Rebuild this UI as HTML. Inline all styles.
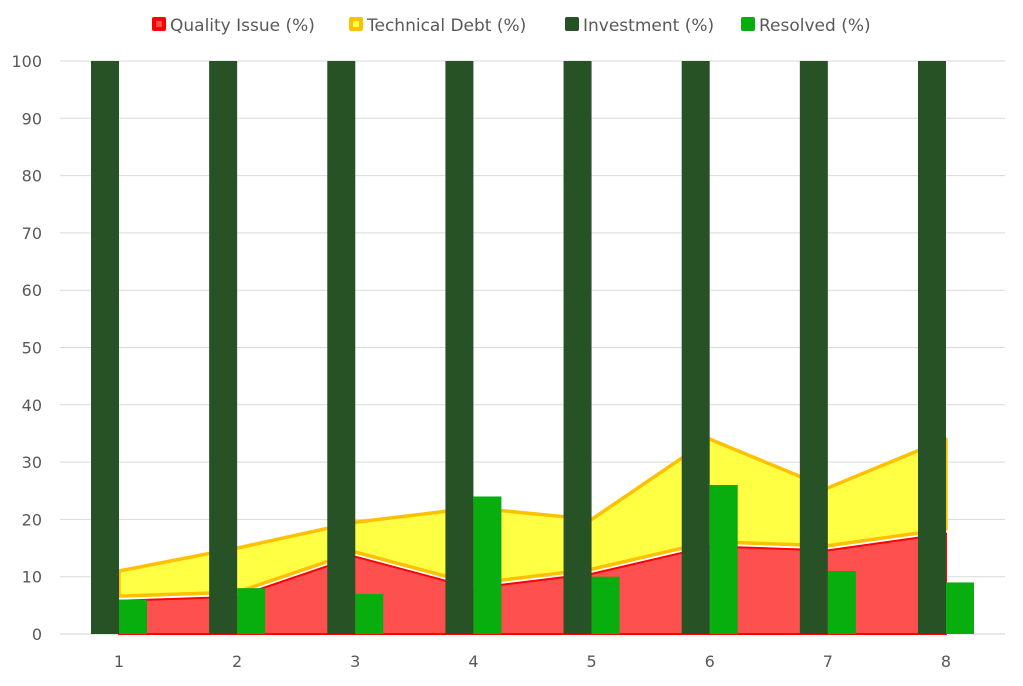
<!DOCTYPE html>
<html><head><meta charset="utf-8"><style>
html,body{margin:0;padding:0;background:#fff;}
svg text{font-family:"DejaVu Sans","Liberation Sans",sans-serif;fill:#595959;}
</style></head><body>
<svg id="c" width="1023" height="681" xmlns="http://www.w3.org/2000/svg"></svg>
<script>
const s=document.getElementById('c');
const Y=v=>634-v*5.73, X=i=>119+i*118.14;
let h='';
for(let v=0;v<=100;v+=10){h+=`<line x1="60" x2="1005" y1="${Y(v)}" y2="${Y(v)}" stroke="${v?'#d9d9d9':'#d0d0d0'}" stroke-width="1"/>`;
h+=`<text x="42" y="${Y(v)+6}" font-size="16" text-anchor="end">${v}</text>`;}
const red=[5.8,6.5,13.5,8,10.5,15.3,14.6,17.5],yt=[11,15,19.5,22,20,34,25.5,34],gr=[6,8,7,24,10,26,11,9];
let yp=yt.map((v,i)=>`${X(i)},${Y(v)}`).join(' ')+' '+red.map((v,i)=>`${X(i)},${Y(v+0.8)}`).reverse().join(' ');
h+=`<polygon points="${yp}" fill="#ffff44" stroke="#ffc000" stroke-width="3.5" stroke-linejoin="round"/>`;
let rp=`${X(0)},${Y(0)} `+red.map((v,i)=>`${X(i)},${Y(v)}`).join(' ')+` ${X(7)},${Y(0)}`;
h+=`<polygon points="${rp}" fill="#ff5050" stroke="#ff0000" stroke-width="2"/>`;
for(let i=0;i<8;i++){h+=`<rect x="${X(i)-28}" y="${Y(100)}" width="28" height="${Y(0)-Y(100)}" fill="#265226"/>`;
h+=`<rect x="${X(i)}" y="${Y(gr[i])}" width="28" height="${Y(0)-Y(gr[i])}" fill="#08ad0e"/>`;
h+=`<text x="${X(i)}" y="667" font-size="16" text-anchor="middle">${i+1}</text>`;}
const lg=[[152,'#ff0000','#ff5050','Quality Issue (%)'],[349,'#ffc000','#ffff44','Technical Debt (%)'],[565,'#265226','#265226','Investment (%)'],[741,'#08ad0e','#08ad0e','Resolved (%)']];
for(const [x,c,f,t] of lg){h+=`<rect x="${x}" y="17" width="14" height="14" rx="2" fill="${c}"/><rect x="${x+4}" y="21" width="6" height="6" fill="${f}"/>`;
h+=`<text x="${x+18}" y="31" font-size="17">${t}</text>`;}
s.innerHTML=h;
</script>
</body></html>
